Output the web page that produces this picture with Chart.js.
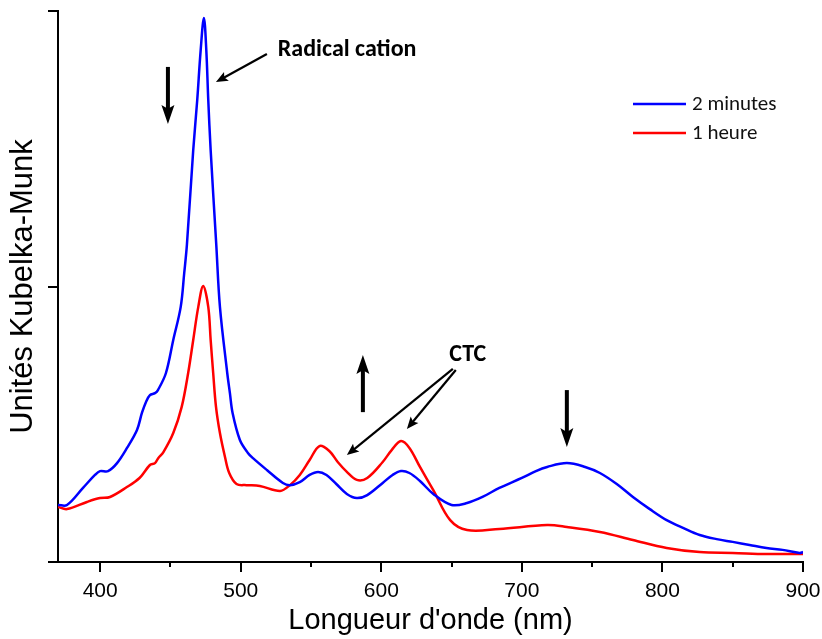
<!DOCTYPE html>
<html>
<head>
<meta charset="utf-8">
<script src="https://cdn.jsdelivr.net/npm/chart.js@4/dist/chart.umd.min.js"></script>
<style>
  html, body { margin: 0; padding: 0; background: #fff; }
  #wrap { width: 822px; height: 639px; }
</style>
</head>
<body>
<div id="wrap"><canvas id="c" width="822" height="639"></canvas></div>
<script>
// ---- Data ----
const seriesLabels = ['2 minutes', '1 heure'];
const seriesColors = ['#0000ff', '#ff0000'];

const blueWavelengths = [370.0, 376.4, 387.8, 396.3, 399.9, 405.6, 412.0, 419.1, 426.2, 429.7, 432.6, 435.4, 439.0, 441.1, 446.8, 452.0, 457.3, 459.8, 461.7, 466.2, 469.05, 471.5, 473.8, 475.5, 476.9, 478.6, 482.6, 485.2, 490.4, 492.3, 494.2, 499.4, 505.1, 508.7, 518.6, 530, 535, 542, 549, 555, 561, 568, 575.5, 582.6, 590, 601, 608, 614, 620, 627.5, 637, 650, 661, 672, 684, 700, 710, 718, 732, 745, 755.5, 767.5, 779, 791, 803, 815, 826.5, 838.6, 850, 862, 874, 885.5, 897.6, 900];
const blueValues = [0.207, 0.207, 0.269, 0.316, 0.330, 0.330, 0.359, 0.414, 0.479, 0.541, 0.581, 0.606, 0.613, 0.624, 0.686, 0.806, 0.926, 1.049, 1.151, 1.495, 1.677, 1.858, 1.975, 1.858, 1.677, 1.495, 1.151, 0.926, 0.686, 0.613, 0.541, 0.443, 0.396, 0.377, 0.334, 0.287, 0.279, 0.290, 0.316, 0.327, 0.316, 0.283, 0.247, 0.232, 0.243, 0.287, 0.316, 0.330, 0.323, 0.294, 0.247, 0.207, 0.214, 0.236, 0.269, 0.305, 0.330, 0.345, 0.359, 0.345, 0.323, 0.283, 0.236, 0.192, 0.152, 0.123, 0.098, 0.083, 0.073, 0.062, 0.051, 0.044, 0.033, 0.036];

const redWavelengths = [370.0, 376.4, 390.6, 399.9, 407, 419, 428, 435.4, 439, 441.3, 445, 452.0, 458.0, 462.6, 466.2, 469.8, 473.3, 476.9, 478.6, 480.4, 482.4, 485.2, 488.8, 491.8, 497, 504, 513.6, 528, 535, 542, 549, 556, 563, 569, 575.5, 582.6, 590, 601, 607.5, 614, 620, 627.5, 637, 649, 661, 684, 718, 732, 755.5, 779, 803, 826.5, 850, 874, 900];
const redValues = [0.200, 0.192, 0.218, 0.232, 0.236, 0.272, 0.305, 0.352, 0.359, 0.377, 0.399, 0.468, 0.563, 0.686, 0.806, 0.926, 1.002, 0.926, 0.806, 0.686, 0.563, 0.468, 0.381, 0.323, 0.283, 0.279, 0.276, 0.258, 0.279, 0.316, 0.370, 0.421, 0.403, 0.363, 0.327, 0.298, 0.305, 0.363, 0.407, 0.439, 0.414, 0.345, 0.261, 0.152, 0.116, 0.120, 0.134, 0.127, 0.109, 0.080, 0.051, 0.036, 0.033, 0.029, 0.029];

const xTickValues = [400, 500, 600, 700, 800, 900];
const xMinorTickValues = [450, 550, 650, 750, 850];
const yTickValues = [0, 1, 2];

const xTitle = "Longueur d'onde (nm)";
const yTitle = 'Unités Kubelka-Munk';

// annotations in data coordinates
const bigArrows = [
  { x: 448.2, from: 1.797, to: 1.590 },
  { x: 586.9, from: 0.544, to: 0.751 },
  { x: 732.0, from: 0.624, to: 0.417 }
];
const thinArrows = [
  { x1: 518.6, y1: 1.844, x2: 482.35, y2: 1.742 },
  { x1: 650.9, y1: 0.701, x2: 575.5, y2: 0.388 },
  { x1: 653.0, y1: 0.697, x2: 618.2, y2: 0.483 }
];
const labels = [
  { text: 'Radical cation', x: 526.4, y: 1.858, align: 'left' },
  { text: 'CTC', x: 661.5, y: 0.751, align: 'center' }
];

function toPoints(xs, ys) { return xs.map((v, i) => ({ x: v, y: ys[i] })); }

const LABEL_FONT = 'Carlito, Lato, "Open Sans", sans-serif';

function drawArrow(ctx, x1, y1, x2, y2, shaftW, headW, headL) {
  const ang = Math.atan2(y2 - y1, x2 - x1);
  const len = Math.hypot(x2 - x1, y2 - y1);
  ctx.save();
  ctx.translate(x1, y1);
  ctx.rotate(ang);
  ctx.fillStyle = '#000';
  ctx.strokeStyle = '#000';
  ctx.lineWidth = shaftW;
  ctx.lineCap = 'butt';
  ctx.beginPath();
  ctx.moveTo(0, 0);
  ctx.lineTo(len - headL * 0.7, 0);
  ctx.stroke();
  ctx.beginPath();
  ctx.moveTo(len, 0);
  ctx.lineTo(len - headL, -headW / 2);
  ctx.lineTo(len - headL * 0.8, 0);
  ctx.lineTo(len - headL, headW / 2);
  ctx.closePath();
  ctx.fill();
  ctx.restore();
}

const annotationPlugin = {
  id: 'annotations',
  afterDatasetsDraw(chart) {
    const { ctx } = chart;
    const xs = chart.scales.x, ys = chart.scales.y;
    bigArrows.forEach(a => {
      const px = xs.getPixelForValue(a.x);
      drawArrow(ctx, px, ys.getPixelForValue(a.from), px, ys.getPixelForValue(a.to), 4, 13, 19);
    });
    thinArrows.forEach(a => {
      drawArrow(ctx, xs.getPixelForValue(a.x1), ys.getPixelForValue(a.y1),
        xs.getPixelForValue(a.x2), ys.getPixelForValue(a.y2), 2.2, 10, 12);
    });
    ctx.save();
    ctx.fillStyle = '#000';
    ctx.textBaseline = 'middle';
    ctx.font = 'bold 24px ' + LABEL_FONT;
    labels.forEach(l => {
      ctx.textAlign = l.align;
      ctx.fillText(l.text, xs.getPixelForValue(l.x), ys.getPixelForValue(l.y));
    });
    ctx.restore();

    // minor ticks on x axis
    ctx.save();
    ctx.strokeStyle = '#000';
    ctx.lineWidth = 2;
    const base = chart.chartArea.bottom;
    xMinorTickValues.forEach(v => {
      const px = Math.round(xs.getPixelForValue(v));
      ctx.beginPath();
      ctx.moveTo(px, base);
      ctx.lineTo(px, base + 5);
      ctx.stroke();
    });
    ctx.restore();

    // legend
    ctx.save();
    ctx.font = '21px ' + LABEL_FONT;
    ctx.textBaseline = 'middle';
    ctx.textAlign = 'left';
    chart.data.datasets.forEach((ds, i) => {
      const yy = 104 + i * 29;
      ctx.strokeStyle = ds.borderColor;
      ctx.lineWidth = 2.5;
      ctx.beginPath();
      ctx.moveTo(633, yy);
      ctx.lineTo(686, yy);
      ctx.stroke();
      ctx.fillStyle = '#111';
      ctx.fillText(ds.label, 692, yy + 1);
    });
    ctx.restore();
  }
};

new Chart(document.getElementById('c'), {
  type: 'line',
  data: {
    datasets: [
      { label: seriesLabels[0], data: toPoints(blueWavelengths, blueValues), borderColor: seriesColors[0], borderWidth: 2.5, pointRadius: 0, tension: 0.35, fill: false },
      { label: seriesLabels[1], data: toPoints(redWavelengths, redValues), borderColor: seriesColors[1], borderWidth: 2.5, pointRadius: 0, tension: 0.35, fill: false }
    ]
  },
  options: {
    responsive: false,
    animation: false,
    devicePixelRatio: 1,
    layout: { padding: { top: 11, right: 19, left: 0, bottom: 0 } },
    plugins: { legend: { display: false }, tooltip: { enabled: false } },
    scales: {
      x: {
        type: 'linear',
        min: 370,
        max: 900,
        afterBuildTicks: s => { s.ticks = xTickValues.map(v => ({ value: v })); },
        afterFit: s => { s.height = 77; s.paddingRight = 0; s.paddingLeft = 0; },
        grid: { drawOnChartArea: false, drawTicks: true, tickLength: 10, color: '#000', lineWidth: 2 },
        border: { display: true, color: '#000', width: 2 },
        ticks: { color: '#000', font: { family: '"Liberation Sans", Arial, sans-serif', size: 21 }, padding: 7, maxRotation: 0, callback: v => String(v) },
        title: { display: true, text: xTitle, color: '#000', font: { family: '"Liberation Sans", Arial, sans-serif', size: 29 }, padding: { top: 0, bottom: 1 } }
      },
      y: {
        type: 'linear',
        min: 0,
        max: 2,
        afterBuildTicks: s => { s.ticks = yTickValues.map(v => ({ value: v })); },
        afterFit: s => { s.width = 58; },
        grid: { drawOnChartArea: false, drawTicks: true, tickLength: 10, color: '#000', lineWidth: 2 },
        border: { display: true, color: '#000', width: 2 },
        ticks: { display: false },
        title: { display: true, text: yTitle, color: '#000', font: { family: '"Liberation Sans", Arial, sans-serif', size: 31 }, padding: { top: 5, bottom: 0 } }
      }
    }
  },
  plugins: [annotationPlugin]
});
</script>
</body>
</html>
